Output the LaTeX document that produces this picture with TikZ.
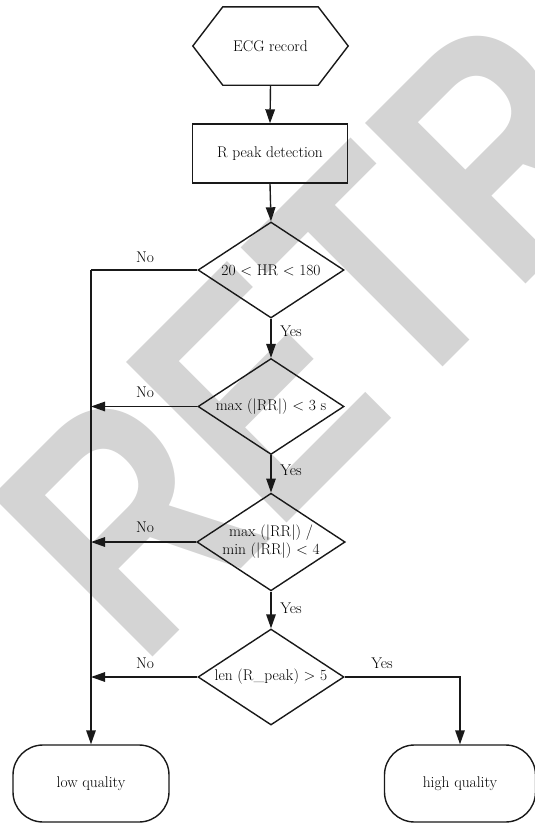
\documentclass[tikz,border=0pt]{standalone}
\usepackage{fontspec}
\newfontfamily\wmfont{Liberation Sans}
\usetikzlibrary{arrows.meta,shapes.geometric}
\definecolor{wmgray}{RGB}{212,212,212}
\begin{document}
\begin{tikzpicture}[x=1pt,y=1pt,
  every node/.style={font=\rmfamily\fontsize{15.5}{18}\selectfont},
  line/.style={line width=1.4pt, draw=black!90},
  arr/.style={line, -{Triangle[length=14pt,width=9.5pt]}},
  boxnode/.style={draw=black!90, line width=1.4pt, minimum width=155pt, minimum height=59pt, inner sep=0},
  hexnode/.style={minimum width=155pt, minimum height=78pt, inner sep=0},
  dec/.style={diamond, draw=black!90, line width=1.4pt, minimum width=146pt, minimum height=96pt, inner sep=0, aspect=1.52, align=center},
  term/.style={draw=black!90, line width=1.4pt, rounded corners=30pt, minimum width=156pt, minimum height=77pt},
  lab/.style={inner sep=0}]
\useasboundingbox (0,-823) rectangle (535,0);
\begin{scope}
\clip (0,-823) rectangle (535,0);
\node[rotate=45, anchor=base west, inner sep=0, text=wmgray, font=\wmfont\bfseries\fontsize{330}{330}\selectfont, xscale=0.8] (wm) at (140,-670) {RETRACTED};
\end{scope}
% nodes
\node[hexnode] (hex) at (270.5,-46) {ECG record};
\draw[line] ([xshift=30pt]hex.north west) -- ([xshift=-30pt]hex.north east) -- (hex.east) -- ([xshift=-30pt]hex.south east) -- ([xshift=30pt]hex.south west) -- (hex.west) -- cycle;
\node[boxnode] (rpk) at (270,-153.5) {R peak detection};
\node[dec] (d1) at (271,-270) {20 < HR < 180};
\node[dec] (d2) at (271,-406.5) {max (|RR|) < 3 s};
\node[dec] (d3) at (271,-542) {max (|RR|) /\\min (|RR|) < 4};
\node[dec] (d4) at (271,-677) {len (R\_peak) > 5};
\node[term] (low) at (91,-783.5) {low quality};
\node[term, minimum width=151pt] (high) at (460,-783.5) {high quality};
\coordinate (c1) at (91,-270);
% connectors
\draw[arr] (hex.south) -- (rpk.north);
\draw[arr] (rpk.south) -- (d1.north);
\draw[arr] (d1.south) -- (d2.north);
\draw[arr] (d2.south) -- (d3.north);
\draw[arr] (d3.south) -- (d4.north);
\draw[line] (d1.west) -- (c1);
\draw[arr] (c1) -- (low.north);
\draw[arr] (d2.west) -- (d2.west -| c1);
\draw[arr] (d3.west) -- (d3.west -| c1);
\draw[arr] (d4.west) -- (d4.west -| c1);
\draw[arr] (d4.east) -| (high.north);
% labels
\node[lab] (no1) at (145,-257) {No};
\node[lab] (no2) at (145,-392) {No};
\node[lab] (no3) at (145,-527) {No};
\node[lab] (no4) at (145,-663) {No};
\node[lab] (yes1) at (291,-331) {Yes};
\node[lab] (yes2) at (291,-470) {Yes};
\node[lab] (yes3) at (291,-608) {Yes};
\node[lab] (yes4) at (382,-663) {Yes};
\end{tikzpicture}
\end{document}
